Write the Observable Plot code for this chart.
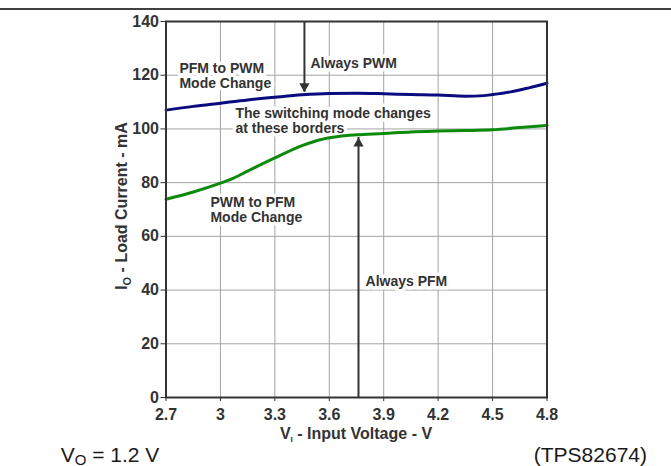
<!DOCTYPE html>
<html><head><meta charset="utf-8">
<script src="https://cdn.jsdelivr.net/npm/d3@7"></script>
<script src="https://cdn.jsdelivr.net/npm/@observablehq/plot@0.6"></script>
<style>
body{margin:0;background:#fff;}
#chart{position:relative;width:671px;height:466px;overflow:hidden;background:#fff;}
</style>
</head><body><div id="chart"></div>
<script>
// ---- data ----
const xTicks = [2.7, 3.0, 3.3, 3.6, 3.9, 4.2, 4.5, 4.8];
const xTickLabels = ["2.7", "3", "3.3", "3.6", "3.9", "4.2", "4.5", "4.8"];
const yTicks = [0, 20, 40, 60, 80, 100, 120, 140];

// PFM to PWM mode change border (blue)
const pfmToPwmV = [2.7, 2.85, 3.0, 3.15, 3.3, 3.45, 3.6, 3.75, 3.9, 4.05, 4.2, 4.35, 4.45, 4.5, 4.6, 4.7, 4.8];
const pfmToPwmI = [107.0, 108.4, 109.6, 110.8, 111.8, 112.7, 113.2, 113.3, 113.1, 112.8, 112.6, 112.2, 112.4, 112.8, 113.8, 115.3, 117.0];

// PWM to PFM mode change border (green)
const pwmToPfmV = [2.7, 2.85, 3.0, 3.07, 3.15, 3.3, 3.45, 3.55, 3.65, 3.75, 3.9, 4.05, 4.2, 4.35, 4.5, 4.65, 4.8];
const pwmToPfmI = [73.8, 76.5, 79.8, 81.6, 84.3, 89.2, 93.8, 96.0, 97.2, 97.8, 98.3, 98.9, 99.2, 99.4, 99.7, 100.5, 101.3];

// arrows
const arrowV = [3.463, 3.761];
const arrowFrom = [140, 0];
const arrowTo = [113.7, 96.8];
const arrowDir = ["down", "up"];

// annotations
const noteText = ["PFM to PWM\nMode Change", "Always PWM", "The switching mode changes\nat these borders", "PWM to PFM\nMode Change", "Always PFM"];
const noteV = [2.774, 3.4965, 3.083, 2.945, 3.80];
const noteI = [124.8, 126.5, 108.1, 74.8, 45.4];

// ---- build ----
const blue = pfmToPwmV.map((v, i) => ({v, i: pfmToPwmI[i]}));
const green = pwmToPfmV.map((v, i) => ({v, i: pwmToPfmI[i]}));
const arrows = arrowV.map((v, k) => ({v, from: arrowFrom[k], to: arrowTo[k], dir: arrowDir[k]}));
const notes = noteText.map((t, k) => ({t, v: noteV[k], i: noteI[k]}));

const font = "'Liberation Sans', Arial, Helvetica, sans-serif";
const dark = "#333";

const plot = Plot.plot({
  width: 671,
  height: 466,
  marginLeft: 165.5,
  marginRight: 124.5,
  marginTop: 21,
  marginBottom: 69,
  x: {type: "linear", domain: [2.7, 4.8], label: null},
  y: {type: "linear", domain: [0, 140], label: null},
  style: {fontFamily: font, fontSize: "16px", fontWeight: "bold", color: dark, background: "white", overflow: "visible"},
  marks: [
    Plot.gridX(xTicks, {stroke: "#a3a3a3", strokeOpacity: 1, strokeWidth: 1}),
    Plot.gridY(yTicks, {stroke: "#a3a3a3", strokeOpacity: 1, strokeWidth: 1}),
    Plot.axisX(xTicks, {tickSize: 4, tickPadding: 7, tickFormat: d => xTickLabels[xTicks.indexOf(d)], label: null, fontSize: 16, fontWeight: "bold", stroke: dark, fill: dark}),
    Plot.axisY(yTicks, {tickSize: 5, tickPadding: 2, label: null, fontSize: 16, fontWeight: "bold", stroke: dark, fill: dark}),
    Plot.text(notes, {x: "v", y: "i", text: "t", textAnchor: "start", lineAnchor: "top", lineHeight: 1.07,
      fontSize: 14, fontWeight: "bold", fill: dark, stroke: "white", strokeWidth: 7, strokeLinejoin: "round", paintOrder: "stroke"}),
    Plot.line(blue, {x: "v", y: "i", stroke: "#0b0b80", strokeWidth: 3, curve: "monotone-x"}),
    Plot.line(green, {x: "v", y: "i", stroke: "#0c8a0c", strokeWidth: 3, curve: "monotone-x"}),
    Plot.ruleX(arrows, {x: "v", y1: "from", y2: "to", stroke: dark, strokeWidth: 2}),
    Plot.dot(arrows.filter(d => d.dir === "down"), {x: "v", y: "to", symbol: "triangle", r: 3.8, fill: dark, rotate: 180, dy: -5.9}),
    Plot.dot(arrows.filter(d => d.dir === "up"), {x: "v", y: "to", symbol: "triangle", r: 3.8, fill: dark, dy: 5.9}),
    Plot.frame({stroke: dark, strokeWidth: 2})
  ]
});

document.getElementById("chart").appendChild(plot);

const xs = plot.scale("x"), ys = plot.scale("y");
const x0 = xs.apply(2.7), x1 = xs.apply(4.8);
const yTop = ys.apply(140), yBot = ys.apply(0);
const svg = d3.select(plot);

// top rule
svg.append("line").attr("x1", 0).attr("x2", 671).attr("y1", 9).attr("y2", 9)
  .attr("stroke", "#000").attr("stroke-width", 1.5);

// x label
const xl = svg.append("text").attr("x", (x0 + x1) / 2).attr("y", yBot + 42)
  .attr("text-anchor", "middle").attr("fill", dark).attr("font-size", 16).attr("font-weight", "bold");
xl.append("tspan").text("V");
xl.append("tspan").attr("font-size", 8).attr("dy", 3).text("I");
xl.append("tspan").attr("dy", -3).text(" - Input Voltage - V");

// y label
const yl = svg.append("text")
  .attr("transform", `translate(${x0 - 38.5},${(yTop + yBot) / 2 - 3}) rotate(-90)`)
  .attr("text-anchor", "middle").attr("fill", dark).attr("font-size", 16).attr("font-weight", "bold");
yl.append("tspan").text("I");
yl.append("tspan").attr("font-size", 11).attr("dy", 4).text("O");
yl.append("tspan").attr("dy", -4).text(" - Load Current - mA");

// caption
const c1 = svg.append("text").attr("x", 110).attr("y", 462)
  .attr("fill", "#1a1a1a").attr("font-size", 21).attr("font-weight", "normal");
c1.append("tspan").text("V");
c1.append("tspan").attr("font-size", 15).attr("dy", 2.5).text("O");
c1.append("tspan").attr("dy", -2.5).text(" = 1.2 V");
svg.append("text").attr("x", 647).attr("y", 462).attr("text-anchor", "end")
  .attr("fill", "#1a1a1a").attr("font-size", 21).attr("font-weight", "normal").text("(TPS82674)");
</script>
</body></html>
